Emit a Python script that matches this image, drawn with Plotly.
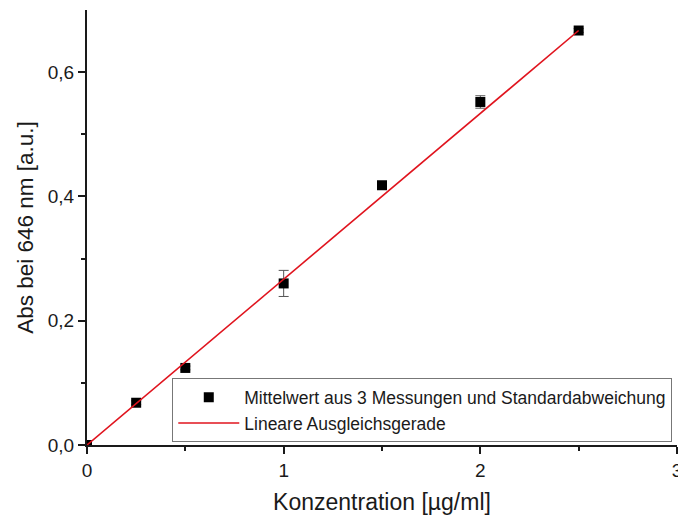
import plotly.graph_objects as go

conc = [0, 0.25, 0.5, 1.0, 1.5, 2.0, 2.5]
absorb = [0.0, 0.068, 0.124, 0.260, 0.418, 0.552, 0.667]
err = [0.0, 0.003, 0.003, 0.021, 0.003, 0.010, 0.003]

fit_x = [0, 2.5]
fit_y = [0.0, 0.667]

FONT = "Liberation Sans, Arial, sans-serif"

fig = go.Figure()
fig.add_trace(go.Scatter(
    x=conc, y=absorb, mode="markers",
    name="Mittelwert aus 3 Messungen und Standardabweichung",
    marker=dict(symbol="square", size=10, color="black"),
    error_y=dict(type="data", array=err, visible=True, color="#555555", thickness=1, width=5),
))
fig.add_trace(go.Scatter(
    x=fit_x, y=fit_y, mode="lines",
    name="Lineare Ausgleichsgerade",
    line=dict(color="#e0141e", width=1.6),
))

fig.update_layout(
    width=678, height=517,
    margin=dict(l=87, r=1, t=10, b=72),
    plot_bgcolor="white", paper_bgcolor="white",
    font=dict(family=FONT, color="#1a1a1a"),
    legend=dict(
        x=0.992, y=0.006, xanchor="right", yanchor="bottom",
        bordercolor="#777777", borderwidth=1, bgcolor="white",
        font=dict(size=17.5, family=FONT, color="#1a1a1a"),
        tracegroupgap=0, itemwidth=61,
    ),
    xaxis=dict(
        range=[0, 3], tickvals=[0, 1, 2, 3], ticktext=["0", "1", "2", "3"],
        showgrid=False, zeroline=False, showline=True, linecolor="#1a1a1a", linewidth=2,
        ticks="outside", ticklen=7, tickwidth=2, tickcolor="#1a1a1a",
        tickfont=dict(size=19, family=FONT), ticklabeloverflow="allow", automargin=False,
        minor=dict(tickvals=[0.5, 1.5, 2.5], ticks="outside", ticklen=4, tickwidth=2, tickcolor="#1a1a1a"),
        title=dict(text="Konzentration [µg/ml]", font=dict(size=23, family=FONT), standoff=14),
    ),
    yaxis=dict(
        range=[0, 0.7], tickvals=[0, 0.2, 0.4, 0.6], ticktext=["0,0", "0,2", "0,4", "0,6"],
        showgrid=False, zeroline=False, showline=True, linecolor="#1a1a1a", linewidth=2,
        ticks="outside", ticklen=7, tickwidth=2, tickcolor="#1a1a1a",
        tickfont=dict(size=19, family=FONT), automargin=False,
        minor=dict(tickvals=[0.1, 0.3, 0.5], ticks="outside", ticklen=4, tickwidth=2, tickcolor="#1a1a1a"),
        title=dict(text="Abs bei 646 nm [a.u.]", font=dict(size=22.5, family=FONT), standoff=8),
    ),
)

fig.write_html("out.html")
